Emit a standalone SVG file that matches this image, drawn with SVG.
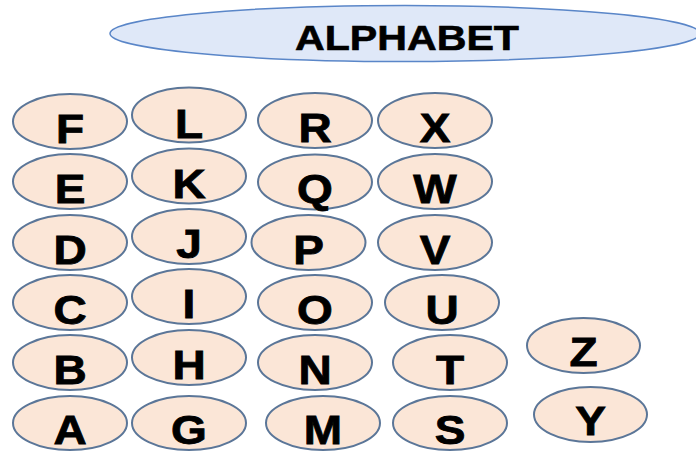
<svg xmlns="http://www.w3.org/2000/svg" width="696" height="451" viewBox="0 0 696 451">
<style>
.bg{fill:#ffffff}
.title{fill:#dfe8f8;stroke:#5a86c8;stroke-width:1.5}
.lt{fill:#fbe6d7;stroke:#5b7698;stroke-width:2}
.tt{font-family:"Liberation Sans",Arial,sans-serif;font-weight:bold;font-size:35px;fill:#000;stroke:#000;stroke-width:0.6;text-anchor:middle}
.t{font-family:"Liberation Sans",Arial,sans-serif;font-weight:bold;font-size:40px;fill:#000;stroke:#000;stroke-width:0.8;text-anchor:middle}
</style>
<rect class="bg" x="0" y="0" width="696" height="451"/>
<g id="title">
<ellipse class="title" cx="405" cy="33.5" rx="295" ry="28"/>
<text class="tt" x="407" y="50" textLength="224" lengthAdjust="spacingAndGlyphs">ALPHABET</text>
</g>
<g id="connectors"></g>
<g id="node-F"><ellipse class="lt" cx="70" cy="121.5" rx="57" ry="27.5"/><text class="t" transform="translate(70,143) scale(1.15,1)">F</text></g>
<g id="node-E"><ellipse class="lt" cx="70" cy="181.5" rx="57" ry="27.5"/><text class="t" transform="translate(70,203) scale(1.15,1)">E</text></g>
<g id="node-D"><ellipse class="lt" cx="70" cy="242.5" rx="57" ry="27.5"/><text class="t" transform="translate(70,264) scale(1.15,1)">D</text></g>
<g id="node-C"><ellipse class="lt" cx="70" cy="302.5" rx="57" ry="27.5"/><text class="t" transform="translate(70,324) scale(1.15,1)">C</text></g>
<g id="node-B"><ellipse class="lt" cx="70" cy="362.5" rx="57" ry="27.5"/><text class="t" transform="translate(70,384) scale(1.15,1)">B</text></g>
<g id="node-A"><ellipse class="lt" cx="70" cy="423" rx="57" ry="27"/><text class="t" transform="translate(70,444) scale(1.15,1)">A</text></g>
<g id="node-L"><ellipse class="lt" cx="189" cy="115" rx="57" ry="27.5"/><text class="t" transform="translate(189,138) scale(1.15,1)">L</text></g>
<g id="node-K"><ellipse class="lt" cx="189" cy="176" rx="57" ry="27.5"/><text class="t" transform="translate(189,198) scale(1.15,1)">K</text></g>
<g id="node-J"><ellipse class="lt" cx="189" cy="236.5" rx="57" ry="27.5"/><text class="t" transform="translate(189,258) scale(1.15,1)">J</text></g>
<g id="node-I"><ellipse class="lt" cx="189" cy="296.5" rx="57" ry="27.5"/><text class="t" transform="translate(189,318) scale(1.15,1)">I</text></g>
<g id="node-H"><ellipse class="lt" cx="189" cy="357.5" rx="57" ry="27.5"/><text class="t" transform="translate(189,379) scale(1.15,1)">H</text></g>
<g id="node-G"><ellipse class="lt" cx="189" cy="423" rx="57" ry="27"/><text class="t" transform="translate(189,444) scale(1.15,1)">G</text></g>
<g id="node-R"><ellipse class="lt" cx="315" cy="120.5" rx="57" ry="27.5"/><text class="t" transform="translate(315,142) scale(1.15,1)">R</text></g>
<g id="node-Q"><ellipse class="lt" cx="315" cy="182" rx="57" ry="27.5"/><text class="t" transform="translate(315,203) scale(1.15,1)">Q</text></g>
<g id="node-P"><ellipse class="lt" cx="308.5" cy="242.5" rx="57" ry="27.5"/><text class="t" transform="translate(308.5,264) scale(1.15,1)">P</text></g>
<g id="node-O"><ellipse class="lt" cx="315" cy="302.5" rx="57" ry="27.5"/><text class="t" transform="translate(315,324) scale(1.15,1)">O</text></g>
<g id="node-N"><ellipse class="lt" cx="315" cy="362.5" rx="57" ry="27.5"/><text class="t" transform="translate(315,384) scale(1.15,1)">N</text></g>
<g id="node-M"><ellipse class="lt" cx="323" cy="423" rx="57" ry="27"/><text class="t" transform="translate(323,444) scale(1.15,1)">M</text></g>
<g id="node-X"><ellipse class="lt" cx="435" cy="120.5" rx="57" ry="27.5"/><text class="t" transform="translate(435,142) scale(1.15,1)">X</text></g>
<g id="node-W"><ellipse class="lt" cx="435" cy="181.5" rx="57" ry="27.5"/><text class="t" transform="translate(435,203) scale(1.15,1)">W</text></g>
<g id="node-V"><ellipse class="lt" cx="435" cy="242.5" rx="57" ry="27.5"/><text class="t" transform="translate(435,264) scale(1.15,1)">V</text></g>
<g id="node-U"><ellipse class="lt" cx="442" cy="302.5" rx="57" ry="27.5"/><text class="t" transform="translate(442,324) scale(1.15,1)">U</text></g>
<g id="node-T"><ellipse class="lt" cx="450" cy="362.5" rx="57" ry="27.5"/><text class="t" transform="translate(450,384) scale(1.15,1)">T</text></g>
<g id="node-S"><ellipse class="lt" cx="450" cy="423" rx="57" ry="27"/><text class="t" transform="translate(450,444) scale(1.15,1)">S</text></g>
<g id="node-Z"><ellipse class="lt" cx="583.5" cy="345.5" rx="56.5" ry="27.5"/><text class="t" transform="translate(583.5,366) scale(1.15,1)">Z</text></g>
<g id="node-Y"><ellipse class="lt" cx="590.5" cy="414.5" rx="56.5" ry="27.5"/><text class="t" transform="translate(590.5,435) scale(1.15,1)">Y</text></g>
</svg>
